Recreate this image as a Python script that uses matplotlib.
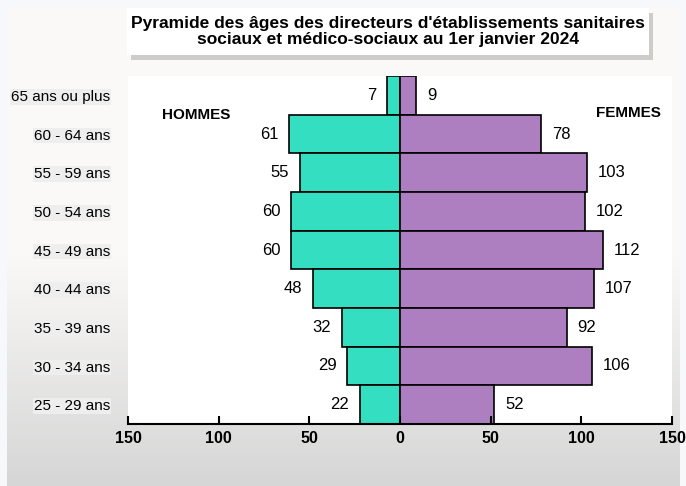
import numpy as np
import matplotlib.pyplot as plt
from matplotlib.patches import Rectangle

plt.rcParams['font.family'] = ['Liberation Sans', 'DejaVu Sans']

# Data (top to bottom as in the chart)
ages = ['65 ans ou plus', '60 - 64 ans', '55 - 59 ans', '50 - 54 ans', '45 - 49 ans',
        '40 - 44 ans', '35 - 39 ans', '30 - 34 ans', '25 - 29 ans']
hommes = [7, 61, 55, 60, 60, 48, 32, 29, 22]
femmes = [9, 78, 103, 102, 112, 107, 92, 106, 52]
xticks = [-150, -100, -50, 0, 50, 100, 150]

fig = plt.figure(figsize=(6.86, 4.86), dpi=100)
fig.patch.set_facecolor('#f7f8fb')

# background panel with vertical gradient
bg = fig.add_axes([0.01, 0, 0.98, 0.985], zorder=-10)
grad = np.concatenate([np.ones(50), np.linspace(1, 0, 50)])[:, None]
c_top = np.array([0.985, 0.98, 0.975])
c_bot = np.array([0.84, 0.84, 0.84])
img = grad[..., None] * c_top + (1 - grad[..., None]) * c_bot
bg.imshow(img, aspect='auto', extent=[0, 1, 0, 1])
bg.axis('off')

ax = fig.add_axes([128 / 686, 1 - 424 / 486, 544 / 686, 348 / 486])
ax.set_facecolor('white')

y = np.arange(len(ages))
ax.barh(y, [-v for v in hommes], height=1.0, color='#33dfc0', edgecolor='black', linewidth=1.2)
ax.barh(y, femmes, height=1.0, color='#ae7fc0', edgecolor='black', linewidth=1.2)

for yi, v in zip(y, hommes):
    ax.text(-v - 6, yi, str(v), ha='right', va='center', fontsize=12)
for yi, v in zip(y, femmes):
    ax.text(v + 6, yi, str(v), ha='left', va='center', fontsize=12)

ax.set_xlim(-150, 150)
ax.set_ylim(8.5, -0.5)
ax.set_yticks(y)
ax.set_yticklabels(ages, fontsize=11)
for lbl in ax.get_yticklabels():
    lbl.set_bbox(dict(facecolor='#eeeeee', edgecolor='none', pad=0.6))
ax.tick_params(axis='y', length=0, pad=13)

ax.set_xticks(xticks)
ax.set_xticklabels([str(abs(t)) for t in xticks], fontsize=11.5, fontweight='bold')
ax.tick_params(axis='x', length=6, width=1.5, direction='in', pad=5)
for s in ['top', 'right', 'left']:
    ax.spines[s].set_visible(False)
ax.spines['bottom'].set_linewidth(1.5)

ax.text(-131, 0.52, 'HOMMES', fontsize=11, fontweight='bold', ha='left', va='center')
ax.text(144, 0.45, 'FEMMES', fontsize=11, fontweight='bold', ha='right', va='center')

# title box with shadow
x0, y0, w, h = 127 / 686, 1 - 55 / 486, 522 / 686, 47 / 486
fig.patches.append(Rectangle((x0 + 0.006, y0 - 0.01), w, h, transform=fig.transFigure,
                             facecolor='#a0a0a0', edgecolor='none', alpha=0.5, zorder=1))
fig.patches.append(Rectangle((x0, y0), w, h, transform=fig.transFigure,
                             facecolor='white', edgecolor='none', zorder=2))
fig.text(x0 + w / 2, y0 + h / 2,
         "Pyramide des âges des directeurs d'établissements sanitaires\n"
         "sociaux et médico-sociaux au 1er janvier 2024",
         ha='center', va='center', fontsize=12.5, fontweight='bold', linespacing=1.15, zorder=3)

fig.savefig('out.png', dpi=100, facecolor=fig.get_facecolor())
